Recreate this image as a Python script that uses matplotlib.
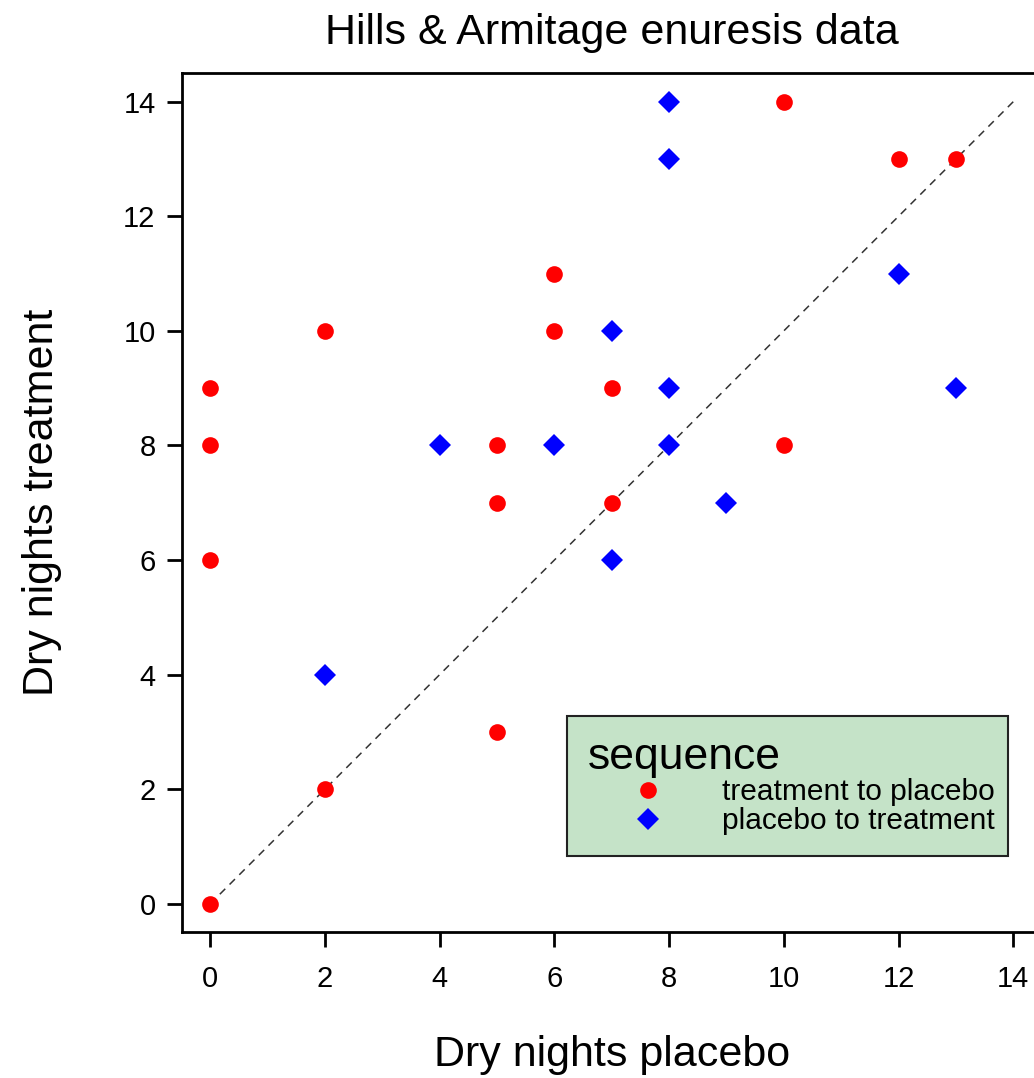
import matplotlib
matplotlib.use("Agg")
import matplotlib.pyplot as plt
from matplotlib.lines import Line2D

plt.rcParams['font.family'] = ['Liberation Sans', 'DejaVu Sans']

# treatment to placebo (red circles)
tp_placebo = [0, 0, 0, 0, 2, 2, 5, 5, 5, 6, 6, 7, 7, 10, 10, 12, 13]
tp_treat   = [0, 6, 8, 9, 2, 10, 3, 7, 8, 10, 11, 7, 9, 8, 14, 13, 13]
# placebo to treatment (blue diamonds)
pt_placebo = [2, 4, 6, 7, 7, 8, 8, 8, 8, 9, 12, 13]
pt_treat   = [4, 8, 8, 6, 10, 8, 9, 13, 14, 7, 11, 9]

ticks = [0, 2, 4, 6, 8, 10, 12, 14]
legend_labels = ["treatment to placebo", "placebo to treatment"]

W, H = 1034, 1078
fig = plt.figure(figsize=(W/100, H/100), dpi=100)
left, right, top, bottom = 182, 1042, 73, 932
ax = fig.add_axes([left/W, 1 - bottom/H, (right-left)/W, (bottom-top)/H])

ax.plot([0, 14], [0, 14], linestyle=(0, (5, 4)), color='#333333', lw=1.1, zorder=1)
ax.plot(tp_placebo, tp_treat, 'o', color='#ff0000', markersize=12, markeredgewidth=0, zorder=3)
ax.plot(pt_placebo, pt_treat, 'D', color='#0000ff', markersize=11, markeredgewidth=0, zorder=3)

ax.set_xlim(-0.49, 14.5)
ax.set_ylim(-0.49, 14.5)
ax.set_xticks(ticks)
ax.set_yticks(ticks)
ax.tick_params(direction='out', length=11, width=2, labelsize=21)
ax.tick_params(axis='x', pad=13)
ax.tick_params(axis='y', pad=8)
for s in ax.spines.values():
    s.set_linewidth(2)

ax.set_xlabel("Dry nights placebo", fontsize=31, labelpad=30)
ax.set_ylabel("Dry nights treatment", fontsize=31, labelpad=44)
fig.text(612/W, 1 - 33/H, "Hills & Armitage enuresis data", fontsize=31, ha='center', va='center')

handles = [Line2D([], [], marker='o', color='#ff0000', linestyle='none', markersize=12, markeredgewidth=0),
           Line2D([], [], marker='D', color='#0000ff', linestyle='none', markersize=11, markeredgewidth=0)]
leg = ax.legend(handles, legend_labels, title="sequence", loc='upper left',
                bbox_to_anchor=((567-left)/(right-left), (bottom-849)/(bottom-top),
                                (1008-567)/(right-left), (849-716)/(bottom-top)),
                mode='expand', fontsize=21.5, title_fontsize=32, frameon=True, fancybox=False,
                borderpad=0.7, handletextpad=0.5, handlelength=4.0, labelspacing=0.02,
                borderaxespad=0)
leg._legend_box.align = "left"
fr = leg.get_frame()
fr.set_facecolor('#c5e3c8')
fr.set_edgecolor('#222222')
fr.set_linewidth(1.5)
fr.set_alpha(1)

fig.savefig("out.png", dpi=100)
